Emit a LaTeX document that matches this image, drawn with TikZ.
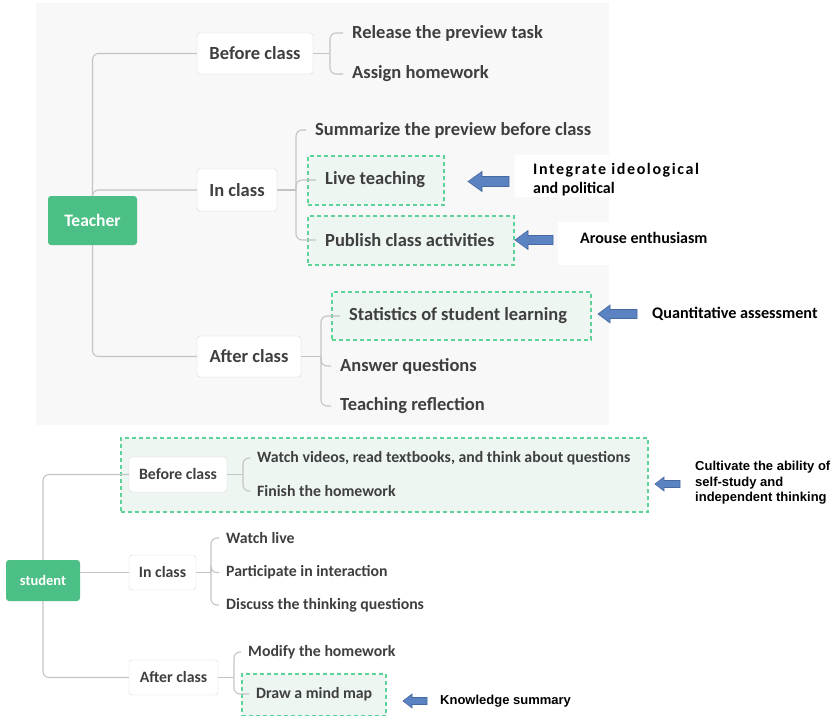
\documentclass[tikz,border=0pt]{standalone}
\usepackage{fontspec}
\setmainfont{Carlito}
\newfontfamily\arialf{Liberation Sans}
\definecolor{tgray}{HTML}{3F3F3F}
\definecolor{lgray}{HTML}{C4C4C4}
\definecolor{bordgray}{HTML}{D6D6D6}
\definecolor{nodegreen}{HTML}{4CBF86}
\definecolor{dgreen}{HTML}{5DD39A}
\definecolor{dfill}{HTML}{EDF6F1}
\definecolor{bgray}{HTML}{F8F8F8}
\definecolor{arrblue}{HTML}{5B83C2}
\definecolor{arrline}{HTML}{46699F}
\tikzset{
  root/.style={fill=nodegreen, rounded corners=3, text=white, font=\bfseries\fontsize{17.5}{20}\selectfont},
  cat/.style={draw=bordgray, fill=white, rounded corners=3, text=tgray, font=\bfseries\fontsize{18.5}{21}\selectfont},
  scat/.style={cat, font=\bfseries\fontsize{15.8}{18}\selectfont},
  leaf/.style={anchor=west, text=tgray, inner xsep=9pt, inner ysep=2pt, font=\bfseries\fontsize{18.5}{21}\selectfont},
  sleaf/.style={leaf, inner xsep=7pt, font=\bfseries\fontsize{15.8}{18}\selectfont},
  conn/.style={draw=lgray, line width=1.1pt, rounded corners=6pt},
  dbox/.style={draw=dgreen, fill=dfill, dash pattern=on 4pt off 3pt, line width=1.3pt},
  note/.style={anchor=west, inner sep=0pt, align=left, text=black, font=\bfseries\fontsize{16}{19}\selectfont},
  snote/.style={note, font=\arialf\bfseries\fontsize{13}{15.5}\selectfont},
  arr/.style={draw=arrline, fill=arrblue, line width=0.6pt, line join=miter}
}
\begin{document}
\begin{tikzpicture}[x=1pt,y=-1pt]
\useasboundingbox (0,0) rectangle (835,715);
% backgrounds
\fill[bgray] (36,3) rectangle (609,425);
\fill[white] (515,155) rectangle (609,197);
\fill[white] (558,222) rectangle (609,265);
% ===== Teacher =====
\node[root, minimum width=89pt, minimum height=49pt] (teacher) at (92.5,220.5) {Teacher};
\node[cat, minimum width=116pt, minimum height=41pt] (tbc) at (255,53.5) {Before class};
\node[cat, minimum width=80pt, minimum height=42pt] (tic) at (237,190) {In class};
\node[cat, minimum width=104pt, minimum height=41pt] (tac) at (249,356.5) {After class};
\draw[conn] (teacher.north) |- (tbc.west);
\draw[conn] (teacher.north) |- (tic.west);
\draw[conn] (teacher.south) |- (tac.west);
% before class leaves
\node[leaf] (r1) at (343,33) {Release the preview task};
\node[leaf] (r2) at (343,74) {Assign homework};
\coordinate (jb) at (330,53.5);
\draw[conn] (tbc.east) -- (jb);
\draw[conn] (jb) |- (r1.west);
\draw[conn] (jb) |- (r2.west);
% in class leaves
\node[dbox, minimum width=136pt, minimum height=49pt] (livebox) at (376,180.5) {};
\node[dbox, minimum width=206pt, minimum height=49pt] (pubbox) at (411,240.5) {};
\node[leaf] (i1) at (306,130) {Summarize the preview before class};
\node[leaf] (i2) at (316,180) {Live teaching};
\node[leaf] (i3) at (316,240) {Publish class activities};
\coordinate (ji) at (296,190);
\draw[conn] (tic.east) -- (ji);
\draw[conn] (ji) |- (i1.west);
\draw[conn] (ji) |- (i2.west);
\draw[conn] (ji) |- (i3.west);
% after class leaves
\node[dbox, minimum width=259pt, minimum height=48pt] (statbox) at (461.5,316) {};
\node[leaf] (a1) at (340,316) {Statistics of student learning};
\node[leaf] (a2) at (331,366) {Answer questions};
\node[leaf] (a3) at (331,406) {Teaching reflection};
\coordinate (ja) at (321,356.5);
\draw[conn] (tac.east) -- (ja);
\draw[conn] (ja) |- (a1.west);
\draw[conn] (ja) |- (a2.west);
\draw[conn] (ja) |- (a3.west);
% annotations top
\draw[arr] (468,181.5) -- ++(14,-10) -- ++(0,5) -- ++(27,0) -- ++(0,10) -- ++(-27,0) -- ++(0,5) -- cycle;
\draw[arr] (515,240) -- ++(13,-9.5) -- ++(0,5) -- ++(25,0) -- ++(0,9) -- ++(-25,0) -- ++(0,5) -- cycle;
\draw[arr] (598,314) -- ++(12,-9) -- ++(0,4.5) -- ++(27,0) -- ++(0,9) -- ++(-27,0) -- ++(0,4.5) -- cycle;
\node[note] (n1) at (533,180) {{\addfontfeatures{LetterSpace=10}Integrate ideological}\\and political};
\node[note] (n2) at (580,238) {Arouse enthusiasm};
\node[note, font=\bfseries\fontsize{16.2}{18}\selectfont] (n3) at (652,314) {Quantitative assessment};
% ===== Student =====
\node[dbox, minimum width=527pt, minimum height=74pt] (sbox) at (384.5,475) {};
\node[root, minimum width=74pt, minimum height=41pt, font=\bfseries\fontsize{14.5}{17}\selectfont] (student) at (43,580.5) {student};
\node[scat, minimum width=98pt, minimum height=35pt] (sbc) at (178,474.5) {Before class};
\node[scat, minimum width=67pt, minimum height=35pt] (sic) at (162.5,572.5) {In class};
\node[scat, minimum width=89pt, minimum height=35pt] (sac) at (173.5,677.5) {After class};
\draw[conn] (student.north) |- (sbc.west);
\draw[conn] (sic.west -| student.east) -- (sic.west);
\draw[conn] (student.south) |- (sac.west);
% before
\node[sleaf] (w1) at (250,458) {Watch videos, read textbooks, and think about questions};
\node[sleaf] (w2) at (250,491) {Finish the homework};
\coordinate (jsb) at (243,474.5);
\draw[conn] (sbc.east) -- (jsb);
\draw[conn] (jsb) |- (w1.west);
\draw[conn] (jsb) |- (w2.west);
% in
\node[sleaf] (p1) at (219,538) {Watch live};
\node[sleaf] (p2) at (219,572.5) {Participate in interaction};
\node[sleaf] (p3) at (219,605) {Discuss the thinking questions};
\coordinate (jsi) at (211,572.5);
\draw[conn] (sic.east) -- (jsi);
\draw[conn] (jsi) |- (p1.west);
\draw[conn] (jsi) |- (p2.west);
\draw[conn] (jsi) |- (p3.west);
% after
\node[dbox, minimum width=144pt, minimum height=42pt] (mindbox) at (314,695) {};
\node[sleaf] (m1) at (241,652) {Modify the homework};
\node[sleaf] (m2) at (249,694) {Draw a mind map};
\coordinate (jsa) at (234,677.5);
\draw[conn] (sac.east) -- (jsa);
\draw[conn] (jsa) |- (m1.west);
\draw[conn] (jsa) |- (m2.west);
% annotations bottom
\draw[arr] (655,484) -- ++(9,-7) -- ++(0,3.5) -- ++(16,0) -- ++(0,7) -- ++(-16,0) -- ++(0,3.5) -- cycle;
\draw[arr] (403,701) -- ++(9,-7) -- ++(0,3.5) -- ++(15,0) -- ++(0,7) -- ++(-15,0) -- ++(0,3.5) -- cycle;
\node[snote] (n4) at (695,483) {Cultivate the ability of\\self-study and\\independent thinking};
\node[snote] (n5) at (440,701) {Knowledge summary};
\end{tikzpicture}
\end{document}
